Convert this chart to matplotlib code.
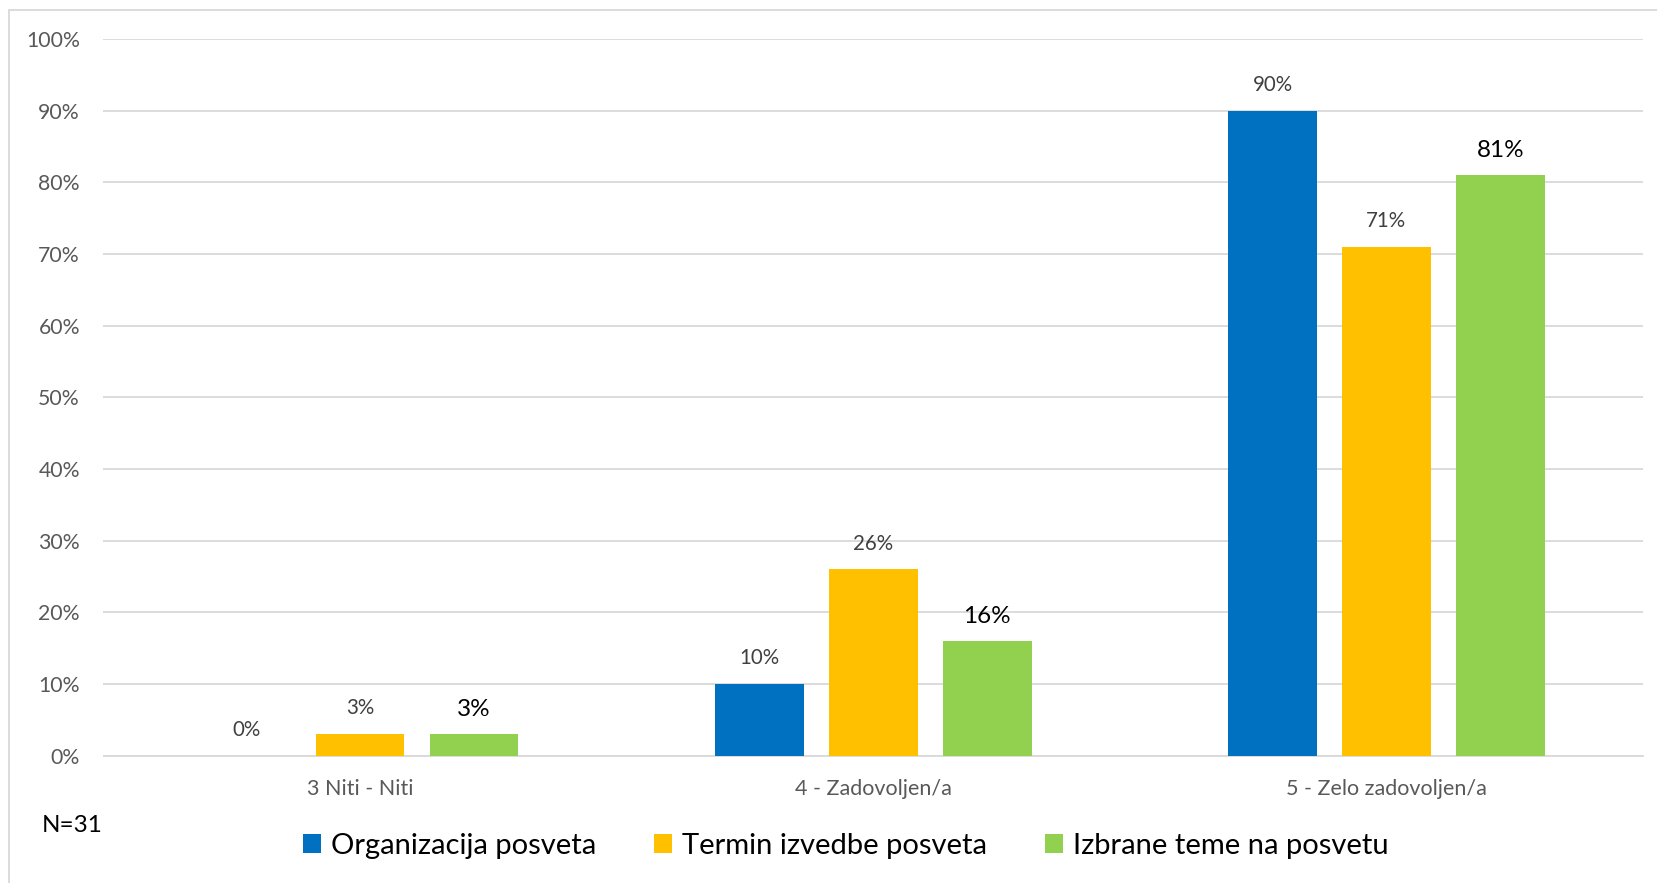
import numpy as np
import matplotlib.pyplot as plt
from matplotlib.patches import Rectangle

plt.rcParams["font.family"] = ["Lato", "DejaVu Sans"]

categories = ["3 Niti - Niti", "4 - Zadovoljen/a", "5 - Zelo zadovoljen/a"]
series_names = ["Organizacija posveta", "Termin izvedbe posveta", "Izbrane teme na posvetu"]
organizacija = [0, 10, 90]
termin = [3, 26, 71]
teme = [3, 16, 81]
colors = ["#0070C0", "#FFC000", "#92D050"]


def main():
    W, H = 1658, 883
    fig = plt.figure(figsize=(W / 100, H / 100), dpi=100)
    # chart border (only left and top edges are inside the image)
    fig.patches.append(Rectangle((9.5 / W, -0.1), 1.2, 1.1 - 10 / H, transform=fig.transFigure,
                                 fill=False, edgecolor="#D9D9D9", linewidth=1.3))
    ax = fig.add_axes([103.5 / W, 1 - 755.7 / H, (1643 - 103.5) / W, (755.7 - 39) / H])

    x = np.arange(len(categories))
    width = 0.173
    offset = 0.222
    data = [organizacija, termin, teme]
    for i, (vals, name, col) in enumerate(zip(data, series_names, colors)):
        pos = x + (i - 1) * offset
        ax.bar(pos, vals, width, color=col, label=name, zorder=3)
        for p, v in zip(pos, vals):
            if i == 2:
                ax.text(p, v + 2.0, f"{v}%", ha="center", va="bottom", fontsize=17.5, color="black")
            else:
                ax.text(p, v + 2.2, f"{v}%", ha="center", va="bottom", fontsize=14.8, color="#404040")

    ax.set_xlim(-0.5, 2.5)
    ax.set_ylim(0, 100)
    ax.set_yticks(range(0, 101, 10))
    ax.set_yticklabels([f"{t}%" for t in range(0, 101, 10)])
    ax.set_xticks(x)
    ax.set_xticklabels(categories)
    ax.tick_params(axis="y", length=0, labelsize=15.3, colors="#595959", pad=17)
    ax.tick_params(axis="x", length=0, labelsize=15.5, colors="#595959", pad=17)
    ax.grid(axis="y", color="#D9D9D9", linewidth=1.3, zorder=0)
    ax.set_axisbelow(True)
    for s in ["top", "right", "left"]:
        ax.spines[s].set_visible(False)
    ax.spines["bottom"].set_color("#D9D9D9")
    ax.spines["bottom"].set_linewidth(1.3)

    fig.text(42 / W, 1 - 826 / H, "N=31", fontsize=17.5, va="center", ha="left", color="black")
    fig.legend(loc="center", bbox_to_anchor=(846 / W, 1 - 846 / H), ncol=3, frameon=False,
               fontsize=21, handlelength=0.6, handleheight=0.6, handletextpad=0.35,
               columnspacing=2.0)

    plt.savefig("out.png", dpi=100)


if __name__ == '__main__':
    main()
